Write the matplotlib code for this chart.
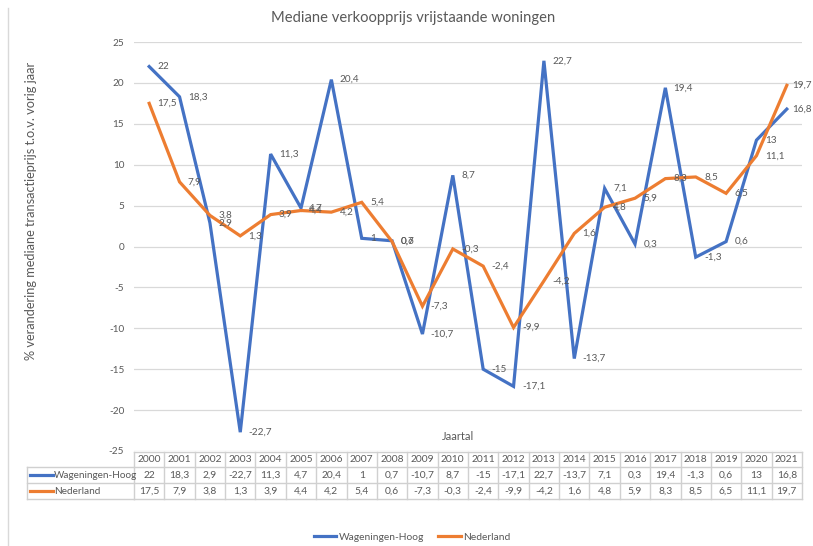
import matplotlib.pyplot as plt
from matplotlib.lines import Line2D
from matplotlib import transforms

plt.rcParams['font.family'] = ['Lato', 'DejaVu Sans']

# data
years = list(range(2000, 2022))
wageningen = [22, 18.3, 2.9, -22.7, 11.3, 4.7, 20.4, 1, 0.7, -10.7, 8.7,
              -15, -17.1, 22.7, -13.7, 7.1, 0.3, 19.4, -1.3, 0.6, 13, 16.8]
nederland = [17.5, 7.9, 3.8, 1.3, 3.9, 4.4, 4.2, 5.4, 0.6, -7.3, -0.3,
             -2.4, -9.9, -4.2, 1.6, 4.8, 5.9, 8.3, 8.5, 6.5, 11.1, 19.7]
series_names = ['Wageningen-Hoog', 'Nederland']
series_values = [wageningen, nederland]
series_colors = ['#4472C4', '#ED7D31']
yticks = list(range(-25, 30, 5))

TXT = '#595959'
GRID = '#D9D9D9'
W, H = 813, 546
FS = 7.4


def fx(px):
    return px / W


def fy(py):
    return 1 - py / H


def fmt(v):
    return f"{v:g}".replace('.', ',')


fig = plt.figure(figsize=(W / 100, H / 100), dpi=100)
ax = fig.add_axes([fx(134), fy(451), fx(802) - fx(134), fy(42) - fy(451)])

xs = list(range(len(years)))
for name, vals, col in zip(series_names, series_values, series_colors):
    ax.plot(xs, vals, color=col, lw=2.3, solid_joinstyle='miter', zorder=3)
    for i, v in zip(xs, vals):
        # last labels sit a bit closer so they stay inside the chart
        off = 4.0 if i == len(xs) - 1 else 6.0
        ax.annotate(fmt(v), (i, v), xytext=(off, 0), textcoords='offset points',
                    ha='left', va='center', fontsize=7.2, color=TXT, zorder=4)

ax.set_xlim(-0.5, len(years) - 0.5)
ax.set_ylim(-25, 25)
ax.set_yticks(yticks)
ax.set_yticklabels([str(t) for t in yticks])
ax.set_xticks([])
ax.tick_params(axis='y', length=0, pad=7, labelsize=7.2, labelcolor=TXT)
ax.grid(axis='y', color=GRID, lw=0.9)
for s in ax.spines.values():
    s.set_visible(False)

fig.text(fx(413), fy(18), 'Mediane verkoopprijs vrijstaande woningen',
         ha='center', va='center', fontsize=10.6, color=TXT)
fig.text(fx(31), fy(211), '% verandering mediane transactieprijs t.o.v. vorig jaar',
         rotation=90, ha='center', va='center', fontsize=9.2, color=TXT)
fig.text(fx(458), fy(436), 'Jaartal', ha='center', va='center', fontsize=8, color=TXT)

# left border of chart area
fig.add_artist(Line2D([fx(8), fx(8)], [fy(8), 0], color=GRID, lw=1))

# data table
bt = transforms.blended_transform_factory(ax.transData, fig.transFigure)
rows_y = [452, 467, 483, 499]
line_kw = dict(color='#D0D0D0', lw=1, clip_on=False)
x0, x1 = -0.5, len(years) - 0.5
fig.add_artist(Line2D([x0, x1], [fy(rows_y[0])] * 2, transform=bt, **line_kw))
for ry in rows_y[1:]:
    fig.add_artist(Line2D([fx(27), fx(134)], [fy(ry)] * 2, **line_kw))
    fig.add_artist(Line2D([x0, x1], [fy(ry)] * 2, transform=bt, **line_kw))
fig.add_artist(Line2D([fx(27), fx(27)], [fy(rows_y[1]), fy(rows_y[3])], **line_kw))
for k in range(len(years) + 1):
    fig.add_artist(Line2D([k - 0.5, k - 0.5], [fy(rows_y[0]), fy(rows_y[3])],
                          transform=bt, **line_kw))

for i, yr in enumerate(years):
    fig.text(i, fy((rows_y[0] + rows_y[1]) / 2), str(yr), transform=bt,
             ha='center', va='center', fontsize=FS, color=TXT)
for r, (name, vals, col) in enumerate(zip(series_names, series_values, series_colors)):
    cy = fy((rows_y[r + 1] + rows_y[r + 2]) / 2)
    fig.add_artist(Line2D([fx(30), fx(53)], [cy, cy], color=col, lw=2.3))
    fig.text(fx(54), cy, name, ha='left', va='center', fontsize=7.2, color=TXT)
    for i, v in enumerate(vals):
        fig.text(i, cy, fmt(v), transform=bt, ha='center', va='center',
                 fontsize=FS, color=TXT)

# legend
handles = [Line2D([], [], color=c, lw=2.3) for c in series_colors]
fig.legend(handles, series_names, loc='center', bbox_to_anchor=(fx(412), fy(537)),
           ncol=2, frameon=False, fontsize=7.4, labelcolor=TXT,
           handlelength=2.2, handletextpad=0.2, columnspacing=1.4)

fig.savefig('out.png', dpi=100)
